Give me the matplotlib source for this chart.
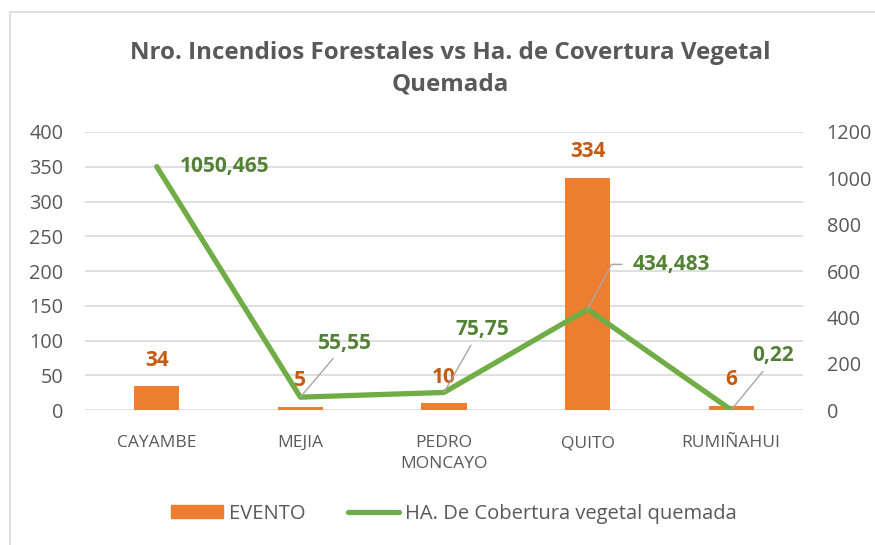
import matplotlib.pyplot as plt
from matplotlib.patches import Rectangle
from matplotlib.lines import Line2D

CATEGORIES = ["CAYAMBE", "MEJIA", "PEDRO\nMONCAYO", "QUITO", "RUMIÑAHUI"]
EVENTOS = [34, 5, 10, 334, 6]
HECTAREAS = [1050.465, 55.55, 75.75, 434.483, 0.22]
HA_LABELS = ["1050,465", "55,55", "75,75", "434,483", "0,22"]

ORANGE = "#ED7D31"
ORANGE_TXT = "#C55A11"
GREEN = "#70AD47"
GREEN_TXT = "#538135"
GREY_TXT = "#595959"
GRID = "#D9D9D9"

plt.rcParams["font.family"] = ["Open Sans", "DejaVu Sans"]


def main():
    fig = plt.figure(figsize=(8.75, 5.45), dpi=100)
    ax = fig.add_axes([0.0971, 0.2477, 0.8206, 0.5101])
    ax2 = ax.twinx()

    # chart border (only top/left visible in the reference)
    fig.patches.append(Rectangle((0.0115, -0.2), 1.2, 1.178, transform=fig.transFigure,
                                 fill=False, edgecolor="#D9D9D9", lw=1.2))

    x = range(len(CATEGORIES))
    bars = ax.bar(x, EVENTOS, width=0.315, color=ORANGE, zorder=2)
    ax.set_ylim(0, 400)
    ax.set_yticks(range(0, 401, 50))
    ax.set_xlim(-0.5, 4.5)
    ax.grid(axis="y", color=GRID, lw=1.2, zorder=0)
    ax.set_axisbelow(True)

    for b, v in zip(bars, EVENTOS):
        ax.annotate(str(v), (b.get_x() + b.get_width() / 2, v), xytext=(0, 26),
                    textcoords="offset pixels", ha="center", va="center",
                    color=ORANGE_TXT, fontsize=15, fontweight="bold", zorder=5)

    ax2.plot(x, HECTAREAS, color=GREEN, lw=3.8, solid_capstyle="round", zorder=3)
    ax2.set_ylim(0, 1200)
    ax2.set_yticks(range(0, 1201, 200))

    # green data labels with leader lines: (dx, dy) in pixels
    offsets = [(68, 0), (45, 54), (38, 63), (84, 45), (42, 54)]
    for i, (v, lab, (dx, dy)) in enumerate(zip(HECTAREAS, HA_LABELS, offsets)):
        kw = dict(textcoords="offset pixels", ha="center", va="center",
                  color=GREEN_TXT, fontsize=15, fontweight="bold")
        if i == 0:
            ax2.annotate(lab, (i, v), xytext=(dx, dy), **kw)
        elif i == 3:
            ax2.annotate(lab, (i, v), xytext=(dx, dy), **kw,
                         arrowprops=dict(arrowstyle="-", color="#A6A6A6", lw=1,
                                         shrinkA=6, shrinkB=0, relpos=(0, 0.5),
                                         connectionstyle="angle,angleA=0,angleB=62,rad=0"))
        else:
            ax2.annotate(lab, (i, v), xytext=(dx, dy), **kw,
                         arrowprops=dict(arrowstyle="-", color="#A6A6A6", lw=1,
                                         shrinkA=2, shrinkB=0, relpos=(0.35, 0)))

    for a in (ax, ax2):
        for s in a.spines.values():
            s.set_visible(False)
        a.tick_params(length=0, labelsize=14.3, labelcolor=GREY_TXT)
    ax.tick_params(axis="y", pad=15.5)
    ax2.tick_params(axis="y", pad=17)
    ax.set_xticks(list(x))
    ax.set_xticklabels(CATEGORIES, fontsize=12.5, linespacing=1.45, va="top")
    ax.tick_params(axis="x", pad=18)

    fig.text(0.515, 0.874, "Nro. Incendios Forestales vs Ha. de Covertura Vegetal\nQuemada",
             ha="center", va="center", fontsize=17.4, fontweight="bold",
             color=GREY_TXT, linespacing=1.4)

    handles = [Rectangle((0, 0), 1, 1, color=ORANGE),
               Line2D([0], [0], color=GREEN, lw=3.8, solid_capstyle="round")]
    fig.legend(handles, ["EVENTO", "HA. De Cobertura vegetal quemada"],
               loc="center", bbox_to_anchor=(0.519, 0.057), ncol=2, frameon=False,
               fontsize=14.5, labelcolor=GREY_TXT, handlelength=2.55, handleheight=0.6,
               handletextpad=0.3, columnspacing=2.1)

    fig.savefig("out.png", dpi=100)


if __name__ == "__main__":
    main()
